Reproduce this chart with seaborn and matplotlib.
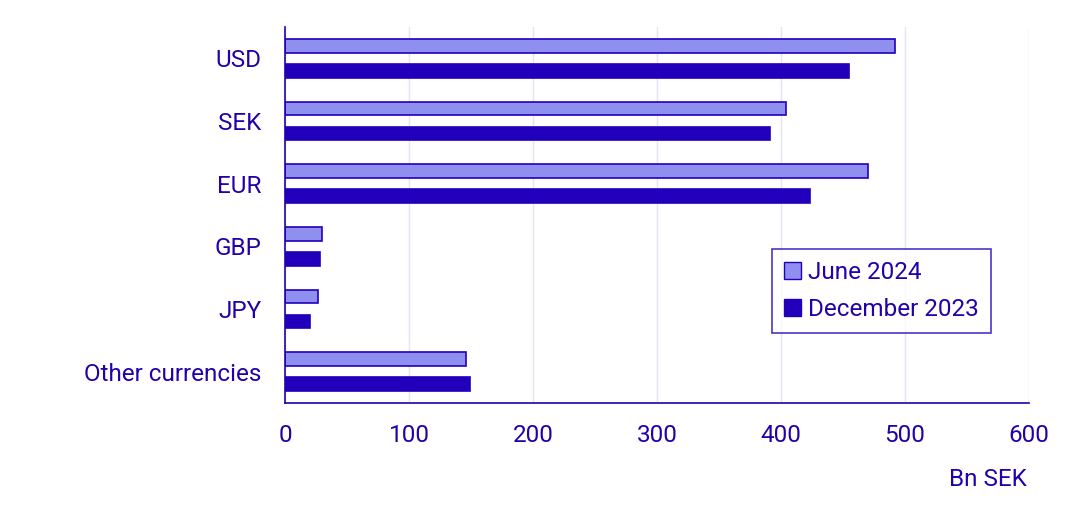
import matplotlib
matplotlib.use("Agg")
import matplotlib.pyplot as plt
import seaborn as sns
import pandas as pd
from matplotlib.patches import Patch

categories = ["USD", "SEK", "EUR", "GBP", "JPY", "Other currencies"]
june_2024 = [492, 404, 470, 30, 27, 146]
dec_2023 = [455, 391, 423, 28, 20, 149]
series = ["June 2024", "December 2023"]

TXT = "#2200aa"
LIGHT = "#8f8ff0"
DARK = "#2200bb"

df = pd.DataFrame({
    "cat": categories * 2,
    "val": june_2024 + dec_2023,
    "series": [series[0]] * len(categories) + [series[1]] * len(categories),
})

sns.set_theme(style="white")
plt.rcParams["font.family"] = ["Roboto", "DejaVu Sans"]
FS = 17.5

fig = plt.figure(figsize=(10.92, 5.15), dpi=100)
ax = fig.add_axes([285/1092, 1-403/515, (1029-285)/1092, (403-27)/515])
sns.barplot(data=df, y="cat", x="val", hue="series", orient="h",
            palette=[LIGHT, DARK], width=0.8, ax=ax, legend=False,
            edgecolor=DARK, linewidth=1.2, saturation=1)
for p in ax.patches:
    c = p.get_y() + p.get_height() / 2
    p.set_height(0.22)
    p.set_y(c - 0.11)

ax.set_xlim(0, 600)
ax.set_ylim(len(categories) - 0.5, -0.5)
ax.set_xticks(range(0, 601, 100))
ax.set_yticks(range(len(categories)))
ax.set_yticklabels(categories)
ax.set_yticks([i - 0.5 for i in range(len(categories) + 1)], minor=True)
ax.tick_params(axis="y", which="major", length=0, pad=17, labelsize=FS, labelcolor=TXT)
ax.tick_params(axis="y", which="minor", length=7, color=TXT, width=1.2, direction="out")
ax.tick_params(axis="x", length=7, color=TXT, width=1.2, labelsize=FS, labelcolor=TXT, pad=8)
ax.grid(axis="x", color="#e4e4f6", linewidth=1)
ax.set_axisbelow(True)
for s in ["top", "right"]:
    ax.spines[s].set_visible(False)
for s in ["left", "bottom"]:
    ax.spines[s].set_color(TXT)
    ax.spines[s].set_linewidth(1.2)
ax.set_xlabel("")
ax.set_ylabel("")
fig.text(1027/1092, 1-479/515, "Bn SEK", ha="right", va="center", fontsize=FS, color=TXT)

handles = [Patch(facecolor=LIGHT, edgecolor=DARK), Patch(facecolor=DARK, edgecolor=DARK)]
leg = ax.legend(handles, series, loc="upper left",
                bbox_to_anchor=((772-285)/744, (403-249)/376),
                fontsize=FS, frameon=True, fancybox=False, handlelength=0.7,
                handleheight=0.7, borderpad=0.5, labelspacing=0.55, handletextpad=0.3,
                borderaxespad=0, borderaxespad_=None) if False else ax.legend(
                handles, series, loc="upper left",
                bbox_to_anchor=((772-285)/744, (403-249)/376),
                fontsize=FS, frameon=True, fancybox=False, handlelength=0.7,
                handleheight=0.7, borderpad=0.5, labelspacing=0.55, handletextpad=0.3,
                borderaxespad=0)
leg.get_frame().set_edgecolor(DARK)
leg.get_frame().set_linewidth(1.2)
for t in leg.get_texts():
    t.set_color(TXT)

fig.savefig("out.png", dpi=100)
